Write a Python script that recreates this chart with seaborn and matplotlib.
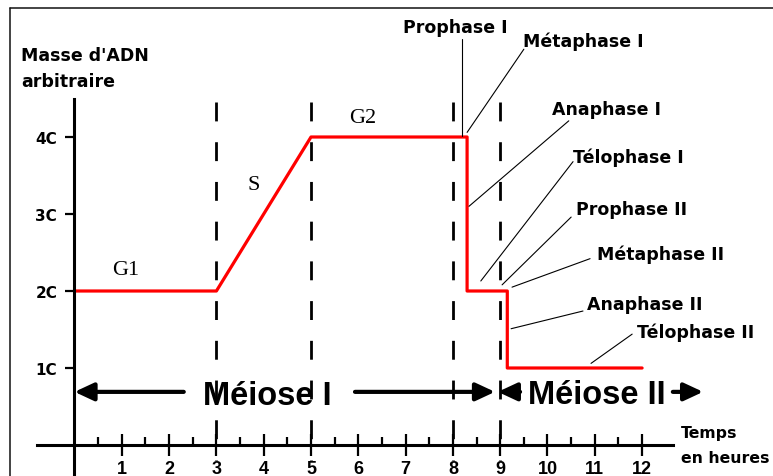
import numpy as np
import pandas as pd
import seaborn as sns
import matplotlib.pyplot as plt
from matplotlib.lines import Line2D

# courbe de la masse d'ADN (temps en heures, masse en C)
temps = [0, 3, 5, 8.3, 8.3, 9.15, 9.15, 12]
masse = [2, 2, 4, 4, 2, 2, 1, 1]

y_ticks = [1, 2, 3, 4]
y_labels = ["1C", "2C", "3C", "4C"]
x_ticks = list(range(1, 13))
x_minor = [h + 0.5 for h in range(12)]
limites = [3, 5, 8, 9]

phases = ["G1", "S", "G2"]
phases_xy = [(0.79, 2.22), (3.65, 3.32), (5.80, 4.19)]

etapes = ["Prophase I", "Métaphase I", "Anaphase I", "Télophase I",
          "Prophase II", "Métaphase II", "Anaphase II", "Télophase II"]
etapes_texte = [(6.94, 5.36), (9.48, 5.18), (10.10, 4.30), (10.54, 3.68),
                (10.60, 3.00), (11.05, 2.42), (10.84, 1.77), (11.89, 1.40)]
etapes_debut = [(8.19, 5.27), (9.50, 5.14), (10.45, 4.21), (10.54, 3.68),
                (10.50, 2.96), (10.90, 2.42), (10.75, 1.74), (11.79, 1.44)]
etapes_fin = [(8.19, 4.01), (8.30, 4.06), (8.34, 3.10), (8.59, 2.13),
              (9.04, 2.08), (9.25, 2.05), (9.23, 1.51), (10.92, 1.06)]

sns.set_style("white")
plt.rcParams['font.family'] = ['DejaVu Sans']
plt.rcParams['text.color'] = 'black'
plt.rcParams['xtick.color'] = 'black'
plt.rcParams['ytick.color'] = 'black'

fig = plt.figure(figsize=(7.73, 4.77), dpi=100)
ax = fig.add_axes([0, 0, 1, 1])
ax.set_xlim(-74.5 / 47.3, (773 - 74.5) / 47.3)
ax.set_ylim(-31 / 77, 446 / 77)
ax.patch.set_alpha(0)

# cadre de l'image
fig.add_artist(Line2D([10 / 773, 10 / 773], [0, 1 - 9 / 477], color="#111111", lw=1.1))
fig.add_artist(Line2D([10 / 773, 1], [1 - 9 / 477, 1 - 9 / 477], color="#111111", lw=1.1))

# axes
for s in ["top", "right"]:
    ax.spines[s].set_visible(False)
ax.spines["left"].set_position(("data", 0))
ax.spines["bottom"].set_position(("data", 0))
ax.spines["left"].set_bounds(-0.45, 4.49)
ax.spines["bottom"].set_bounds(-0.79, 12.65)
for s in ["left", "bottom"]:
    ax.spines[s].set_linewidth(2.2)
    ax.spines[s].set_color("black")

ax.set_yticks(y_ticks)
ax.set_yticklabels(y_labels, fontdict={"family": "DejaVu Sans", "weight": "bold", "size": 11})
ax.set_xticks(x_ticks)
ax.set_xticklabels([str(t) for t in x_ticks],
                   fontdict={"family": "Liberation Sans", "weight": "bold", "size": 13})
ax.set_xticks(x_minor, minor=True)
ax.tick_params(axis="y", direction="out", length=6.5, width=1.6, pad=6, left=True)
ax.tick_params(axis="x", which="major", direction="inout", length=16, width=1.6, pad=3, bottom=True)
ax.tick_params(axis="x", which="minor", direction="in", length=6, width=1.6, bottom=True)

# limites des phases
for x in limites:
    ax.plot([x, x], [4.45, -0.2], color="black", lw=2, linestyle=(0, (6.8, 7.5)))

# courbe rouge
df = pd.DataFrame({"temps": temps, "masse": masse})
sns.lineplot(data=df, x="temps", y="masse", sort=False, estimator=None,
             color="red", lw=2.3, ax=ax)
ax.set_xlabel("")
ax.set_ylabel("")

for nom, (x, y) in zip(phases, phases_xy):
    ax.text(x, y, nom, family="Liberation Serif", fontsize=16, va="baseline")

for nom, t, a, b in zip(etapes, etapes_texte, etapes_debut, etapes_fin):
    ax.text(t[0], t[1], nom, fontsize=12.5, fontweight="bold", va="baseline")
    ax.plot([a[0], b[0]], [a[1], b[1]], color="black", lw=0.8)

# textes des axes
ax.text(-1.13, 5.0, "Masse d'ADN", fontsize=12.5, fontweight="bold", va="baseline")
ax.text(-1.13, 4.66, "arbitraire", fontsize=12.5, fontweight="bold", va="baseline")
ax.text(12.82, 0.104, "Temps", fontsize=11.3, fontweight="bold", va="baseline")
ax.text(12.82, -0.22, "en heures", fontsize=11.3, fontweight="bold", va="baseline")

# fleches meiose
fleche = dict(arrowstyle="-|>,head_length=0.58,head_width=0.27", lw=3, color="black",
              shrinkA=0, shrinkB=0, mutation_scale=20)
y_f = 0.69
for tail, head in [(2.31, 0), (5.93, 8.89), (9.42, 8.95), (12.65, 13.29)]:
    ax.annotate("", xy=(head, y_f), xytext=(tail, y_f), arrowprops=fleche)
ax.text(2.72, 0.53, "Méiose I", family="Liberation Sans", fontsize=23.5,
        fontweight="bold", va="baseline")
ax.text(9.59, 0.545, "Méiose II", family="Liberation Sans", fontsize=23.5,
        fontweight="bold", va="baseline")

fig.savefig("out.png", dpi=100)
